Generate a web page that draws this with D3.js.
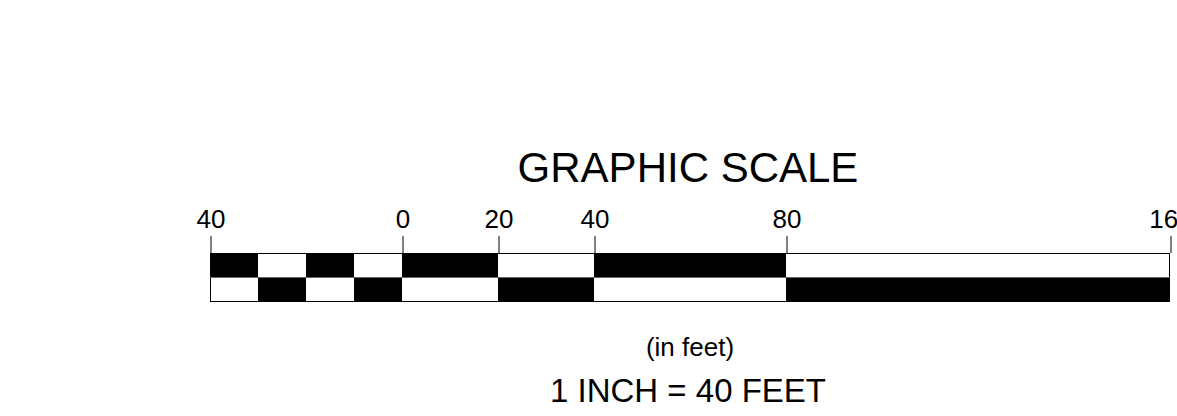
<!DOCTYPE html>
<html>
<head>
<style>
  body { margin: 0; background: #fff; }
  text { font-family: "Liberation Sans", Arial, sans-serif; fill: #000; }
  .scaleaxis .domain { stroke: none; }
  .scaleaxis line { stroke: #000; }
</style>
<script src="https://d3js.org/d3.v7.min.js"></script>
</head>
<body>
<svg id="scalebar" width="1177" height="416"></svg>
<script>
// segment edges in feet, and which row is black for each segment
const segEdges = [-40, -30, -20, -10, 0, 20, 40, 80, 160];
const topBlack = [true, false, true, false, true, false, true, false];
const tickValues = [-40, 0, 20, 40, 80, 160];
const tickLabels = ["40", "0", "20", "40", "80", "160"];
const titleText = "GRAPHIC SCALE";
const unitText = "(in feet)";
const ratioText = "1 INCH = 40 FEET";

const svg = d3.select("svg#scalebar");
const barTop = 253, rowH = 24;

const x = d3.scaleLinear().domain([-40, 160]).range([210, 1170]);

let segs = [];
for (let i = 0; i < segEdges.length - 1; i++) {
  segs.push({a: segEdges[i], b: segEdges[i+1], black: topBlack[i]});
}

let bar = svg.append("g").attr("id", "bar");

// top row
bar.selectAll("rect.top").data(segs).join("rect")
  .attr("class", "top")
  .attr("x", d => x(d.a))
  .attr("y", barTop)
  .attr("width", d => x(d.b) - x(d.a))
  .attr("height", rowH)
  .attr("fill", d => d.black ? "#000" : "#fff");

// bottom row, opposite colours
bar.selectAll("rect.bot").data(segs).join("rect")
  .attr("class", "bot")
  .attr("x", d => x(d.a))
  .attr("y", barTop + rowH)
  .attr("width", d => x(d.b) - x(d.a))
  .attr("height", rowH)
  .attr("fill", d => d.black ? "#fff" : "#000");

// outline
bar.append("rect")
  .attr("x", x(-40) + 0.5)
  .attr("y", barTop + 0.5)
  .attr("width", x(160) - x(-40) - 1)
  .attr("height", rowH * 2)
  .attr("fill", "none")
  .attr("stroke", "#000")
  .attr("stroke-width", 1);

bar.append("line")
  .attr("x1", x(-40)).attr("x2", x(160))
  .attr("y1", barTop + rowH + 0.5).attr("y2", barTop + rowH + 0.5)
  .attr("stroke", "#666").attr("stroke-width", 1);

// ticks and labels (last one runs off the page, as on the original)
let topAxis = d3.axisTop(x)
  .tickValues(tickValues)
  .tickSize(17)
  .tickPadding(8)
  .tickFormat((d, i) => tickLabels[i]);

svg.append("g")
  .attr("class", "scaleaxis")
  .attr("transform", "translate(0.5," + barTop + ")")
  .call(topAxis)
  .selectAll("text")
  .attr("font-size", 26)
  .attr("font-family", "Liberation Sans, Arial, sans-serif")
  .attr("fill", "#000");

const midX = (x(-40) + x(160)) / 2;

svg.append("text")
  .attr("x", midX - 2)
  .attr("y", 182)
  .attr("text-anchor", "middle")
  .attr("font-size", 42)
  .text(titleText);

svg.append("text")
  .attr("x", midX)
  .attr("y", 356)
  .attr("text-anchor", "middle")
  .attr("font-size", 26)
  .text(unitText);

svg.append("text")
  .attr("x", midX - 2)
  .attr("y", 402)
  .attr("text-anchor", "middle")
  .attr("font-size", 33)
  .text(ratioText);
</script>
</body>
</html>
